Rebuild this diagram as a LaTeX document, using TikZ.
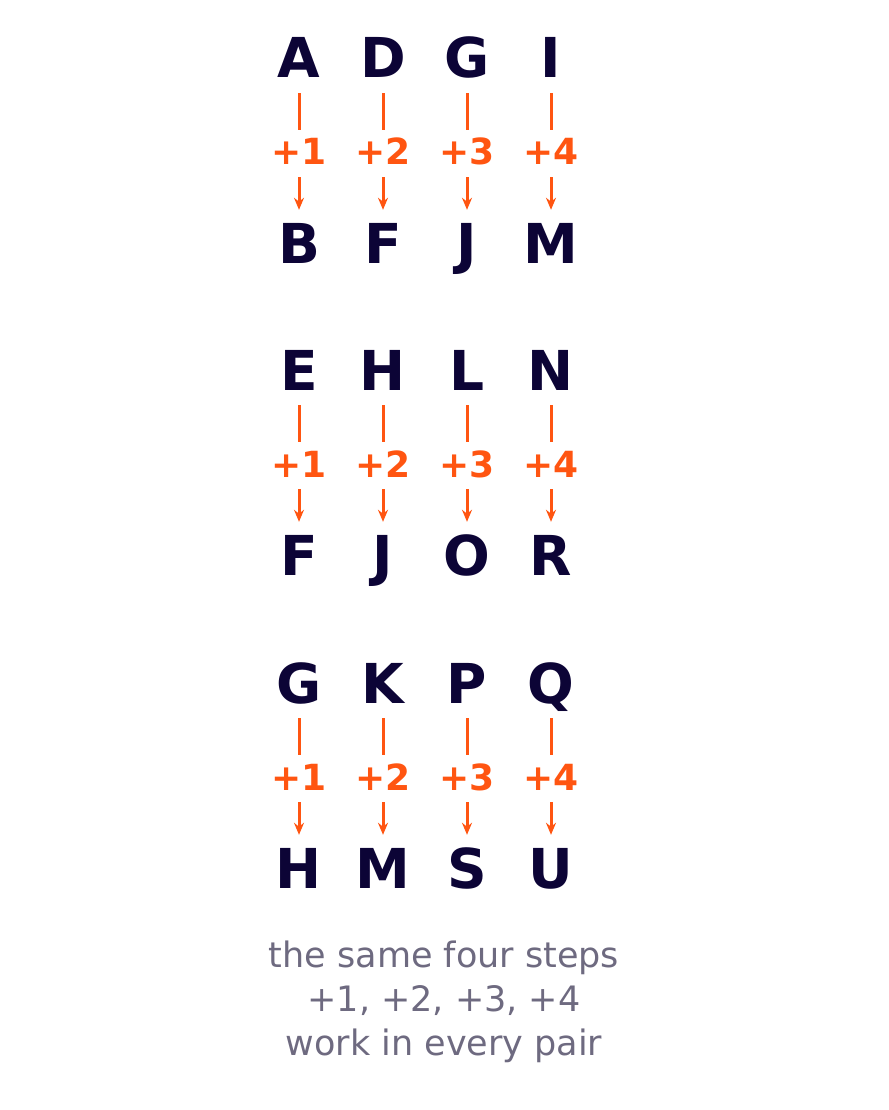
\documentclass[tikz,border=0pt]{standalone}
\usepackage{fontspec}
\setmainfont{DejaVu Sans}
\usetikzlibrary{arrows.meta, positioning}
\definecolor{ink}{HTML}{0C0436}
\definecolor{step}{HTML}{FF5511}
\definecolor{note}{HTML}{6E6A80}
\tikzset{
  letter/.style={inner sep=0pt, text height=40pt, text depth=0pt, text=ink, font=\fontsize{55}{60}\selectfont\bfseries},
  plus/.style={inner sep=0pt, text height=26pt, text depth=0pt, text=step, font=\fontsize{36}{40}\selectfont\bfseries},
  link/.style={draw=step, line width=3pt}
}
\begin{document}
\begin{tikzpicture}[x=1pt, y=-1pt]
        \useasboundingbox (0,0) rectangle (888,1110);
        % three blocks of four pairs
        \foreach \src/\dst/\r/\i/\y in {A/B/1/1/58, D/F/1/2/58, G/J/1/3/58, I/M/1/4/58,
            E/F/2/1/370, H/J/2/2/370, L/O/2/3/370, N/R/2/4/370,
            G/H/3/1/683, K/M/3/2/683, P/S/3/3/683, Q/U/3/4/683} {
            \pgfmathsetmacro{\x}{299+84*(\i-1)}
            \node[letter] (t\r\i) at (\x,\y) {\src};
            \node[plus] (p\r\i) at (\x,\y+94) {+\i};
            \node[letter] (b\r\i) at (\x,\y+185) {\dst};
            \draw[link, shorten <=15pt, shorten >=9pt] (t\r\i.south) -- (p\r\i.north);
            \draw[link, -{Stealth[length=12pt,width=10pt]}, shorten <=12pt, shorten >=13pt] (p\r\i.south) -- (b\r\i.north);
        }
        % caption
        \node[text=note, font=\fontsize{35}{44}\selectfont, align=center] (cap) at (444,1002)
          {the same four steps\\+1, +2, +3, +4\\work in every pair};
    \end{tikzpicture}
\end{document}
